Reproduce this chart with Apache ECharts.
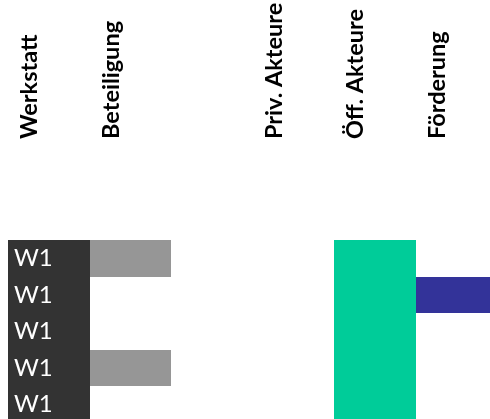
<!DOCTYPE html>
<html>
<head>
<meta charset="utf-8">
<script src="https://cdn.jsdelivr.net/npm/echarts@6/dist/echarts.min.js"></script>
<style>html,body{margin:0;padding:0;background:#fff}#c{width:490px;height:419px}</style>
</head>
<body>
<div id="c"></div>
<script>
// Column headers (third column has no header)
const columns = ['Werkstatt', 'Beteiligung', '', 'Priv. Akteure', 'Öff. Akteure', 'Förderung'];
// Row labels (Werkstatt column)
const werkstatt = ['W1', 'W1', 'W1', 'W1', 'W1'];
// Presence flags per row for each column
const beteiligung = [1, 0, 0, 1, 0];
const privAkteure = [0, 0, 0, 0, 0];
const oeffAkteure = [1, 1, 1, 1, 1];
const foerderung = [0, 1, 0, 0, 0];

const colors = { werkstatt: '#333333', beteiligung: '#969696', priv: '#00CC99', oeff: '#00CC99', foerderung: '#333399' };

const cells = [];
werkstatt.forEach((lbl, r) => cells.push({ value: [0, r], color: colors.werkstatt, text: lbl }));
beteiligung.forEach((v, r) => { if (v) cells.push({ value: [1, r], color: colors.beteiligung, text: '' }); });
privAkteure.forEach((v, r) => { if (v) cells.push({ value: [3, r], color: colors.priv, text: '' }); });
oeffAkteure.forEach((v, r) => { if (v) cells.push({ value: [4, r], color: colors.oeff, text: '' }); });
foerderung.forEach((v, r) => { if (v) cells.push({ value: [5, r], color: colors.foerderung, text: '' }); });

const chart = echarts.init(document.getElementById('c'), null, { renderer: 'canvas' });
chart.setOption({
  animation: false,
  grid: { left: 8, top: 240, width: 489, height: 183, outerBoundsMode: 'none', containLabel: false },
  xAxis: {
    type: 'category',
    position: 'top',
    data: columns,
    axisLine: { show: false },
    axisTick: { show: false },
    splitLine: { show: false },
    axisLabel: {
      interval: 0,
      rotate: -90,
      margin: 101,
      color: '#000',
      fontFamily: 'Lato',
      fontWeight: 'bold',
      fontSize: 23.5,
      lineHeight: 38,
      verticalAlign: 'bottom'
    }
  },
  yAxis: {
    type: 'category',
    inverse: true,
    data: werkstatt.map((_, i) => String(i)),
    show: false
  },
  series: [{
    type: 'custom',
    clip: true,
    data: cells.map(c => c.value),
    renderItem: function (params, api) {
      const c = cells[params.dataIndex];
      const p = api.coord([api.value(0), api.value(1)]);
      const s = api.size([1, 1]);
      const x0 = Math.round(p[0] - s[0] / 2), x1 = Math.round(p[0] + s[0] / 2);
      const y0 = Math.round(p[1] - s[1] / 2), y1 = Math.round(p[1] + s[1] / 2);
      return {
        type: 'rect',
        shape: { x: x0, y: y0, width: x1 - x0, height: y1 - y0 },
        style: { fill: c.color },
        textContent: c.text ? {
          style: { text: c.text, fill: '#fff', fontFamily: 'Lato', fontSize: 24 }
        } : undefined,
        textConfig: c.text ? { position: 'insideLeft', distance: 6 } : undefined
      };
    }
  }]
});
</script>
</body>
</html>
